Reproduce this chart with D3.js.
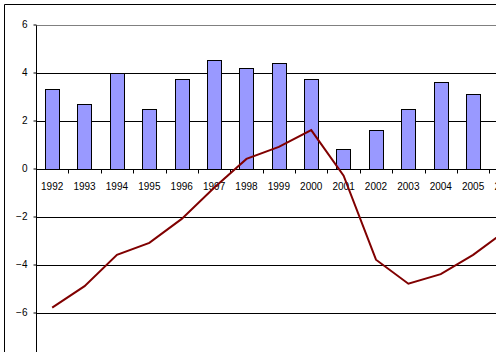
<!DOCTYPE html>
<html>
<head>
<meta charset="utf-8">
<script src="https://cdn.jsdelivr.net/npm/d3@7"></script>
<style>
  html, body { margin: 0; padding: 0; background: #fff; }
  svg { display: block; }
  text { font-family: "Liberation Sans", Arial, sans-serif; font-size: 10px; fill: #000; }
</style>
</head>
<body>
<div id="chart"></div>
<script>
const categories = ["1992","1993","1994","1995","1996","1997","1998","1999","2000","2001","2002","2003","2004","2005","2006"];
const barValues  = [3.3, 2.7, 4.0, 2.5, 3.75, 4.5, 4.2, 4.4, 3.75, 0.8, 1.6, 2.5, 3.6, 3.1, 3.0];
const lineValues = [-5.8, -4.9, -3.6, -3.1, -2.1, -0.8, 0.4, 0.9, 1.6, -0.3, -3.8, -4.8, -4.4, -3.6, -2.6];
const yTicks = [-6, -4, -2, 0, 2, 4, 6];

const W = 496, H = 352;
const svg = d3.select("#chart").append("svg").attr("width", W).attr("height", H);

// outer chart border (cropped at right/bottom)
svg.append("path")
  .attr("d", "M4.5," + H + "V4.5H" + W)
  .attr("fill", "none").attr("stroke", "#000").attr("stroke-width", 1);

const left = 36, band = 32.38;
const x = d3.scaleBand().domain(categories).range([left, left + band * categories.length]).paddingInner(0).paddingOuter(0);
const y = d3.scaleLinear().domain([-8, 6]).range([360.5, 24.5]);

// gridlines
svg.append("g").selectAll("line").data(yTicks.filter(d => d !== 0)).join("line")
  .attr("x1", left).attr("x2", W)
  .attr("y1", d => Math.round(y(d)) + 0.5).attr("y2", d => Math.round(y(d)) + 0.5)
  .attr("stroke", d => d === 6 ? "#808080" : "#000").attr("stroke-width", 1);

// bars
const bw = 14.3;
svg.append("g").selectAll("rect").data(barValues).join("rect")
  .attr("x", (d, i) => Math.round(x(categories[i]) + x.bandwidth() / 2 - bw / 2) + 0.5)
  .attr("y", d => Math.round(y(d)) + 0.5)
  .attr("width", Math.round(bw))
  .attr("height", d => Math.round(y(0)) - Math.round(y(d)))
  .attr("fill", "#9999FF").attr("stroke", "#000").attr("stroke-width", 1);

// y axis
const yAxis = d3.axisLeft(y).tickValues(yTicks).tickSize(3).tickPadding(6).tickFormat(d3.format("d"));
const ya = svg.append("g").attr("transform", "translate(" + (left + 0.5) + ",0)").call(yAxis);
ya.select(".domain").attr("d", "M0," + (Math.round(y(6)) + 0.5) + "V" + H).attr("stroke", "#000");
ya.selectAll(".tick line").attr("stroke", "#000");
ya.selectAll(".tick text").attr("font-size", 10).attr("font-family", "Liberation Sans, Arial, sans-serif").attr("fill", "#000");

// x axis at zero
const zy = Math.round(y(0)) + 0.5;
const xg = svg.append("g");
xg.append("line").attr("x1", left).attr("x2", W).attr("y1", zy).attr("y2", zy).attr("stroke", "#000");
xg.selectAll("line.tk").data(categories).join("line").attr("class", "tk")
  .attr("x1", d => Math.round(x(d) + x.bandwidth()) + 0.5).attr("x2", d => Math.round(x(d) + x.bandwidth()) + 0.5)
  .attr("y1", zy).attr("y2", zy + 4).attr("stroke", "#000");
xg.selectAll("text").data(categories).join("text")
  .attr("x", d => x(d) + x.bandwidth() / 2)
  .attr("y", zy + 20)
  .attr("text-anchor", "middle")
  .text(d => d);

// line
const line = d3.line()
  .x((d, i) => x(categories[i]) + x.bandwidth() / 2)
  .y(d => y(d))
  .curve(d3.curveLinear);
svg.append("path").datum(lineValues)
  .attr("d", line)
  .attr("fill", "none").attr("stroke", "#800000").attr("stroke-width", 2);
</script>
</body>
</html>
